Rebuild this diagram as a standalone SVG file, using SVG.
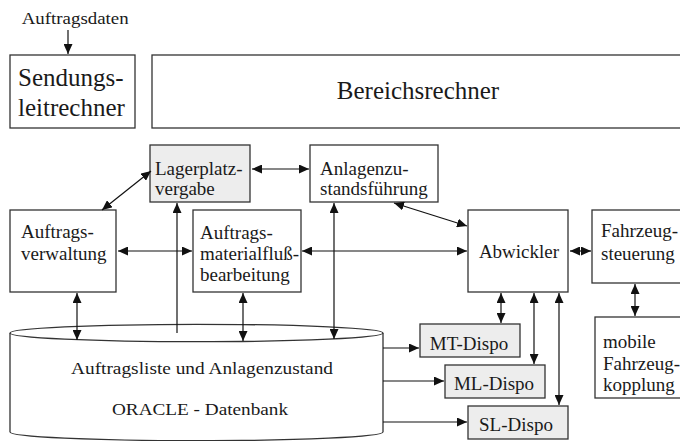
<svg xmlns="http://www.w3.org/2000/svg" width="680" height="441" viewBox="0 0 680 441">
<style>
.box{fill:#ffffff;stroke:#333333;stroke-width:1.3}
.grey{fill:#ededed;stroke:#333333;stroke-width:1.3}
text{font-family:'Liberation Serif','Times New Roman',serif;fill:#1a1a1a}
.t{font-size:19px}
.big{font-size:25px}
.lbl{font-size:17px}
.c{text-anchor:middle}
.ln{fill:none;stroke:#111111;stroke-width:1.2}
.a2{marker-start:url(#ah);marker-end:url(#ah)}
.a1{marker-end:url(#ah)}
</style>
<defs>
<marker id="ah" markerUnits="userSpaceOnUse" markerWidth="10" markerHeight="9" viewBox="0 0 10 9" refX="10" refY="4.5" orient="auto-start-reverse">
<path d="M0,0 L10,4.5 L0,9 z" fill="#111111"/>
</marker>
</defs>

<text class="lbl" x="21.7" y="24" textLength="107" lengthAdjust="spacingAndGlyphs">Auftragsdaten</text>

<g id="sendungsleitrechner">
<rect class="box" x="10" y="55" width="125" height="73"/>
<text class="big" x="18" y="86">Sendungs-</text>
<text class="big" x="18" y="116">leitrechner</text>
</g>

<g id="bereichsrechner">
<rect class="box" x="152" y="55" width="540" height="73"/>
<text class="big c" x="418" y="99" font-size="24">Bereichsrechner</text>
</g>

<g id="lagerplatzvergabe">
<rect class="grey" x="150" y="145" width="100" height="57"/>
<text class="t" x="155" y="175">Lagerplatz-</text>
<text class="t" x="155" y="195">vergabe</text>
</g>

<g id="anlagenzustandsfuehrung">
<rect class="box" x="310" y="145" width="128" height="57"/>
<text class="t" x="320" y="175">Anlagenzu-</text>
<text class="t" x="320" y="195">standsführung</text>
</g>

<g id="auftragsverwaltung">
<rect class="box" x="10" y="210" width="106" height="82"/>
<text class="t" x="21" y="238">Auftrags-</text>
<text class="t" x="21" y="260">verwaltung</text>
</g>

<g id="auftragsmaterialfluss">
<rect class="box" x="193" y="210" width="108" height="82"/>
<text class="t" x="200" y="239">Auftrags-</text>
<text class="t" x="200" y="260">materialfluß-</text>
<text class="t" x="200" y="281">bearbeitung</text>
</g>

<g id="abwickler">
<rect class="box" x="468" y="210" width="100" height="82"/>
<text class="t c" x="519" y="258">Abwickler</text>
</g>

<g id="fahrzeugsteuerung">
<rect class="box" x="592" y="210" width="100" height="73"/>
<text class="t" x="601" y="237">Fahrzeug-</text>
<text class="t" x="601" y="260">steuerung</text>
</g>

<g id="mobile-fahrzeugkopplung">
<rect class="box" x="595" y="317" width="100" height="81"/>
<text class="t" x="603" y="348">mobile</text>
<text class="t" x="603" y="370">Fahrzeug-</text>
<text class="t" x="603" y="391">kopplung</text>
</g>

<g id="datenbank">
<path class="box" d="M10,333 L10,432 A186.5,8.7 0 0 0 383,432 L383,333"/>
<ellipse class="box" cx="196.5" cy="333" rx="186.5" ry="8.7"/>
<text class="lbl" x="71" y="374" textLength="262" lengthAdjust="spacingAndGlyphs">Auftragsliste und Anlagenzustand</text>
<text class="lbl" x="112" y="415" textLength="176" lengthAdjust="spacingAndGlyphs">ORACLE - Datenbank</text>
</g>

<g id="mt-dispo">
<rect class="grey" x="420" y="324" width="100" height="33"/>
<text class="t c" x="469" y="350">MT-Dispo</text>
</g>
<g id="ml-dispo">
<rect class="grey" x="445" y="365" width="100" height="33"/>
<text class="t c" x="494" y="390">ML-Dispo</text>
</g>
<g id="sl-dispo">
<rect class="grey" x="468" y="406" width="100" height="33"/>
<text class="t c" x="516" y="431">SL-Dispo</text>
</g>

<g id="connectors">
<line class="ln a1" x1="68" y1="30" x2="68" y2="54"/>
<line class="ln a2" x1="102" y1="210" x2="151" y2="171"/>
<line class="ln a2" x1="252" y1="169" x2="309" y2="169"/>
<line class="ln a2" x1="118" y1="251" x2="192" y2="251"/>
<line class="ln a1" x1="177" y1="333" x2="177" y2="203"/>
<line class="ln a2" x1="334" y1="203" x2="334" y2="339"/>
<line class="ln a2" x1="302" y1="251" x2="467" y2="251"/>
<line class="ln a2" x1="394" y1="203" x2="467" y2="226"/>
<line class="ln a2" x1="570" y1="251" x2="591" y2="251"/>
<line class="ln a2" x1="635" y1="284" x2="635" y2="316"/>
<line class="ln a2" x1="77" y1="293" x2="77" y2="340"/>
<line class="ln a2" x1="243" y1="293" x2="243" y2="341"/>
<line class="ln a2" x1="501" y1="293" x2="501" y2="323"/>
<line class="ln a2" x1="534" y1="293" x2="534" y2="364"/>
<line class="ln a2" x1="559" y1="293" x2="559" y2="405"/>
<line class="ln a1" x1="383" y1="348" x2="419" y2="348"/>
<line class="ln a1" x1="383" y1="381" x2="444" y2="381"/>
<line class="ln a1" x1="383" y1="422" x2="467" y2="422"/>
</g>
</svg>
